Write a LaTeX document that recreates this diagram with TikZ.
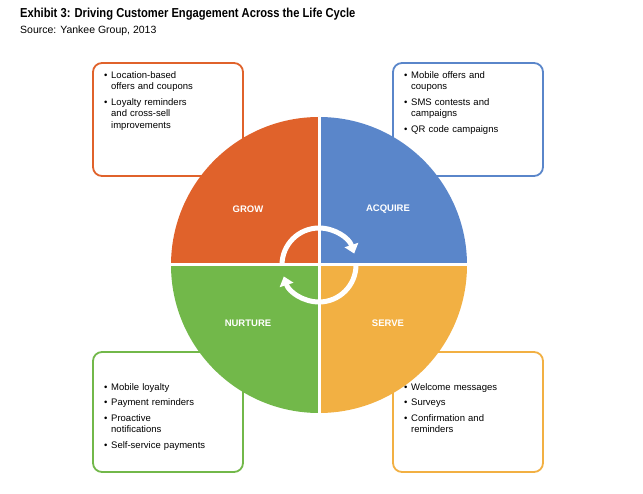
\documentclass[tikz,border=0pt]{standalone}
\usepackage{fontspec}
\setmainfont{Liberation Sans}
\usetikzlibrary{arrows.meta}
\definecolor{growc}{HTML}{E0622B}
\definecolor{acquirec}{HTML}{5A86CA}
\definecolor{servec}{HTML}{F2B043}
\definecolor{nurturec}{HTML}{72B84A}
\tikzset{
  box/.style={draw=#1, line width=1.8pt, rounded corners=9pt, fill=white},
  items/.style={anchor=north west, text width=118pt, align=left, font=\fontsize{9.5}{11.5}\selectfont, inner sep=0pt},
  phase/.style={text=white, font=\bfseries\fontsize{9.5}{11}\selectfont},
  cycle/.style={white, line width=5pt, -{Triangle[length=9pt,width=14pt]}}
}
\newcommand{\itm}{\makebox[7pt][l]{•}}
\begin{document}
\begin{tikzpicture}[x=1pt, y=1pt]
\useasboundingbox (0,0) rectangle (643,493);
% title
\node[anchor=north west, inner sep=0pt, font=\bfseries\fontsize{13}{15}\selectfont, xscale=0.86] (title) at (20,485) {Exhibit 3: Driving Customer Engagement Across the Life Cycle};
\node[anchor=north west, inner sep=0pt, font=\fontsize{10.5}{12}\selectfont] (source) at (20,467) {Source: Yankee Group, 2013};
% boxes behind the wheel
\draw[box=growc] (93,317) rectangle (243,430);
\draw[box=acquirec] (393,317) rectangle (543,430);
\draw[box=nurturec] (93,21) rectangle (243,141);
\draw[box=servec] (393,21) rectangle (543,141);
\node[items] (tl) at (104,422) {\itm Location-based\\\hspace{7pt}offers and coupons\\[4pt]\itm Loyalty reminders\\\hspace{7pt}and cross-sell\\\hspace{7pt}improvements};
\node[items] (tr) at (404,422) {\itm Mobile offers and\\\hspace{7pt}coupons\\[4pt]\itm SMS contests and\\\hspace{7pt}campaigns\\[4pt]\itm QR code campaigns};
\node[items] (bl) at (104,110) {\itm Mobile loyalty\\[4pt]\itm Payment reminders\\[4pt]\itm Proactive\\\hspace{7pt}notifications\\[4pt]\itm Self-service payments};
\node[items] (br) at (404,110) {\itm Welcome messages\\[4pt]\itm Surveys\\[4pt]\itm Confirmation and\\\hspace{7pt}reminders};
% wheel
\coordinate (c) at (319,228);
\fill[growc] (c) -- ++(180:148) arc (180:90:148) -- cycle;
\fill[acquirec] (c) -- ++(90:148) arc (90:0:148) -- cycle;
\fill[servec] (c) -- ++(0:148) arc (0:-90:148) -- cycle;
\fill[nurturec] (c) -- ++(-90:148) arc (-90:-180:148) -- cycle;
\draw[white, line width=3pt] (171,228) -- (467,228) (319,80) -- (319,376);
\node[phase] (g) at (248,284) {GROW};
\node[phase] (a) at (388,284) {ACQUIRE};
\node[phase] (n) at (248,170) {NURTURE};
\node[phase] (s) at (388,170) {SERVE};
\draw[cycle] ([shift={(180:37)}]c) arc (180:18:37);
\draw[cycle] ([shift={(0:37)}]c) arc (0:-162:37);
\end{tikzpicture}
\end{document}
